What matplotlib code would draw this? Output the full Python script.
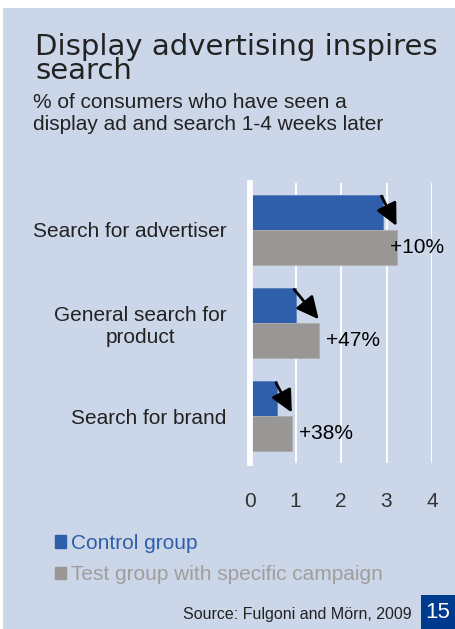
import matplotlib.pyplot as plt
from matplotlib.patches import Rectangle, Patch

categories = ["Search for advertiser", "General search for\nproduct", "Search for brand"]
control = [2.92, 1.0, 0.6]
test = [3.22, 1.51, 0.92]
uplift = ["+10%", "+47%", "+38%"]
xticks = [0, 1, 2, 3, 4]

BG = "#cbd6e8"
BLUE = "#2f5faa"
GREY = "#999795"
TXT = "#222222"

W, H = 456, 629
fig = plt.figure(figsize=(W / 100, H / 100), dpi=100)
fig.patch.set_facecolor("white")

# slide background (thin white strip at top and left)
fig.patches.append(Rectangle((3 / W, 0), 1 - 4 / W, 1 - 8 / H, transform=fig.transFigure,
                             facecolor=BG, edgecolor="none", zorder=-5))


def fy(px):
    return 1 - px / H


fig.text(35 / W, fy(79), "Display advertising inspires\nsearch", fontsize=21,
         family="DejaVu Sans", color=TXT, va="baseline", linespacing=0.8)
fig.text(33 / W, fy(130), "% of consumers who have seen a\ndisplay ad and search 1-4 weeks later",
         fontsize=15, family="Liberation Sans", color=TXT, va="baseline", linespacing=1.2)

ax = fig.add_axes([250 / W, fy(463), 182 / W, 280 / H])
ax.set_facecolor("none")
for s in ax.spines.values():
    s.set_visible(False)

h = 0.375
ys = list(range(len(categories)))
ax.barh([y - h / 2 for y in ys], control, height=h, color=BLUE, edgecolor="#5a7fc0", lw=0.6, zorder=2)
ax.barh([y + h / 2 for y in ys], test, height=h, color=GREY, edgecolor="#b0aeac", lw=0.6, zorder=2)
ax.set_xlim(0, 4)
ax.set_ylim(2.5, -0.5)
ax.set_xticks(xticks)
ax.grid(axis="x", color="white", lw=1.3)
ax.set_axisbelow(True)
ax.axvline(0, color="white", lw=4.2, zorder=3, clip_on=False)

ax.set_yticks(ys, labels=categories)
ax.tick_params(length=0, labelsize=15, colors="#333333")
ax.tick_params(axis="x", pad=21)
ax.tick_params(axis="y", pad=17, labelcolor=TXT)
for lab in ax.get_yticklabels() + ax.get_xticklabels():
    lab.set_family("Liberation Sans")
for lab in ax.get_yticklabels():
    lab.set_multialignment("center")

# arrows from the control bar end down to the test bar end
for y, c, t, u in zip(ys, control, test, uplift):
    ax.annotate("", xy=(t, y - 0.04), xytext=(c - 0.03, y - 0.36),
                arrowprops=dict(arrowstyle="-|>,head_length=0.45,head_width=0.22", color="black",
                                lw=2, mutation_scale=30, shrinkA=0, shrinkB=0), zorder=4)
    ax.text(min(t + 0.15, 3.08), y + h / 2, u, fontsize=15, family="Liberation Sans",
            color="black", va="center", ha="left", zorder=5)

handles = [Patch(color=BLUE), Patch(color=GREY)]
leg = fig.legend(handles, ["Control group", "Test group with specific campaign"],
                 loc="upper left", bbox_to_anchor=(55 / W, fy(534)), frameon=False,
                 prop={"family": "Liberation Sans", "size": 15},
                 handlelength=0.55, handleheight=0.55, handletextpad=0.2,
                 labelspacing=0.6, borderaxespad=0, borderpad=0)
for txt, col in zip(leg.get_texts(), [BLUE, "#a09e9c"]):
    txt.set_color(col)

fig.text(412 / W, fy(614), "Source: Fulgoni and Mörn, 2009", fontsize=11.5,
         family="Liberation Sans", color=TXT, ha="right", va="center")
fig.patches.append(Rectangle((421 / W, 0), 35 / W, 34 / H, transform=fig.transFigure,
                             facecolor="#003a8f", edgecolor="none", zorder=1))
fig.text(438 / W, fy(612), "15", fontsize=16, family="Liberation Sans", color="white",
         ha="center", va="center")

fig.savefig("out.png", dpi=100, facecolor=fig.get_facecolor())
